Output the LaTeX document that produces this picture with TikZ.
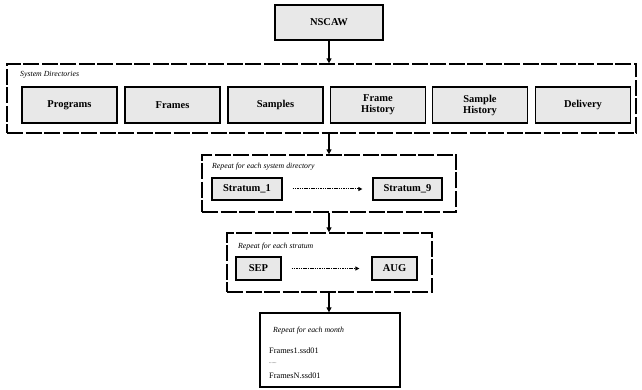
\documentclass[tikz,border=0pt]{standalone}
\usepackage{fontspec}
\setmainfont{Liberation Serif}
\usetikzlibrary{arrows.meta}
\begin{document}
\begin{tikzpicture}[x=1pt,y=-1pt,
 dbox/.style={draw, line width=1.3pt, dash pattern=on 16pt off 2.5pt, inner sep=0},
 sbox/.style={draw, line width=1.3pt, inner sep=0},
 gbox/.style={draw, line width=1.3pt, fill=gray!18, font=\bfseries\fontsize{10.5}{11}\selectfont, align=center, inner sep=0},
 arr/.style={-{Triangle[length=5pt,width=5pt]}, line width=1.3pt},
 darr/.style={-{Triangle[length=4pt,width=4pt]}, line width=1pt, dash pattern=on 1.5pt off 0.8pt},
 lab/.style={font=\itshape\fontsize{7.8}{8}\selectfont, anchor=base west, inner sep=0},
 txt/.style={font=\fontsize{8.3}{9}\selectfont, anchor=base west, inner sep=0}]
\useasboundingbox (0,0) rectangle (642,390);
% top
\node[gbox, minimum width=108pt, minimum height=35pt] (nscaw) at (329,22.5) {NSCAW};
% system directories
\node[dbox, minimum width=629pt, minimum height=69pt] (sysdir) at (321.5,98.5) {};
\node[lab] (sysl) at (20,77) {System Directories};
\node[gbox, minimum width=95pt, minimum height=36pt] (prog) at (69.5,105) {Programs};
\node[gbox, minimum width=95pt, minimum height=36pt] (fram) at (172.5,105) {Frames};
\node[gbox, minimum width=95pt, minimum height=36pt] (samp) at (275.5,105) {Samples};
\node[gbox, minimum width=95pt, minimum height=36pt] (fhis) at (378,105) {Frame\\History};
\node[gbox, minimum width=95pt, minimum height=36pt] (shis) at (480,105) {Sample\\History};
\node[gbox, minimum width=95pt, minimum height=36pt] (deli) at (583,105) {Delivery};
% strata
\node[dbox, minimum width=254pt, minimum height=57pt] (strat) at (329,183.5) {};
\node[lab] (stratl) at (212,168) {Repeat for each system directory};
\node[gbox, minimum width=70pt, minimum height=22pt] (s1) at (247,189) {Stratum\_1};
\node[gbox, minimum width=69pt, minimum height=22pt] (s9) at (407.5,189) {Stratum\_9};
% months
\node[dbox, minimum width=205pt, minimum height=59pt] (mon) at (329.5,262.5) {};
\node[lab] (monl) at (238,248) {Repeat for each stratum};
\node[gbox, minimum width=45pt, minimum height=23pt] (sep) at (258.5,268.5) {SEP};
\node[gbox, minimum width=45pt, minimum height=23pt] (aug) at (394.5,268.5) {AUG};
% files
\node[sbox, minimum width=140pt, minimum height=74pt] (files) at (330,350) {};
\node[lab] (filesl) at (273,332) {Repeat for each month};
\node[txt] (f1) at (269,353) {Frames1.ssd01};
\node[txt, font=\fontsize{5}{6}\selectfont] (fd) at (269,363) {......};
\node[txt] (fn) at (269,378) {FramesN.ssd01};
% connectors
\draw[arr] (nscaw.south) -- (nscaw.south |- sysdir.north);
\draw[arr] (sysdir.south -| strat.north) -- (strat.north);
\draw[arr] (strat.south) -- (mon.north -| strat.south);
\draw[arr] (mon.south -| strat.south) -- (files.north -| strat.south);
\draw[darr] ([xshift=10pt]s1.east) -- ([xshift=-10pt]s9.west);
\draw[darr] ([xshift=10pt]sep.east) -- ([xshift=-12pt]aug.west);
\end{tikzpicture}
\end{document}
